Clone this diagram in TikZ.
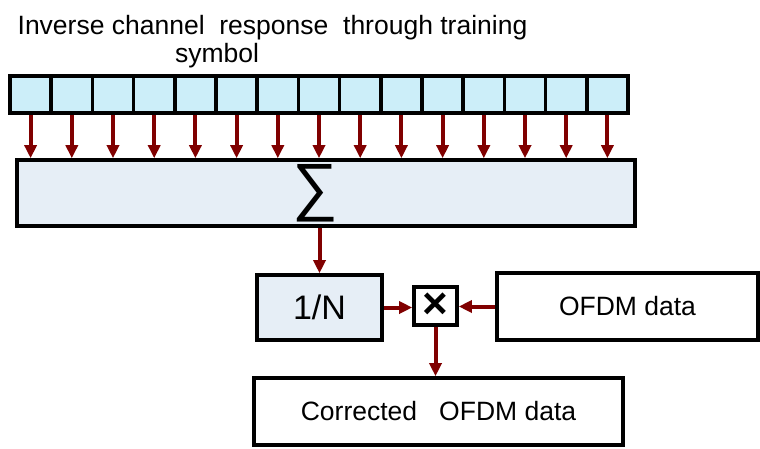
\documentclass[tikz,border=0pt]{standalone}
\usepackage{fontspec}
\setmainfont{Liberation Sans}
\usetikzlibrary{arrows.meta}
\definecolor{darkred}{HTML}{800000}
\definecolor{cellblue}{HTML}{CCEEF9}
\definecolor{boxgray}{HTML}{E6EEF6}
\tikzset{
  blk/.style={draw=black, line width=3.6pt, inner sep=0pt},
  cell/.style={blk, fill=cellblue, minimum width=41.2pt, minimum height=37pt},
  arr/.style={darkred, line width=4pt, -{Triangle[length=13pt,width=12pt]}},
  lbl/.style={font=\fontsize{26.5}{30}\selectfont}
}
\begin{document}
\begin{tikzpicture}[x=1pt, y=-1pt]
  \useasboundingbox (0,0) rectangle (760,448);
  \node[lbl, anchor=base] (title) at (272.5,34) {Inverse channel\ \ response\ \ through training};
  \node[lbl, anchor=base] (sub) at (217,62) {symbol};
  \foreach \i in {0,...,14}
    \node[cell] (c\i) at ({30.6+41.2*\i},94.5) {};
  \node[blk, fill=boxgray, minimum width=618pt, minimum height=66pt] (sum) at (326,193) {};
  \node[font=\fontsize{64}{64}\selectfont] (sigma) at (315,193) {∑};
  \foreach \i in {0,...,14}
    \draw[arr] (c\i.south) -- (c\i.south |- sum.north);
  \node[blk, fill=boxgray, minimum width=125pt, minimum height=65pt,
    font=\fontsize{34}{34}\selectfont] (inv) at (319.5,307.5) {1/N};
  \node[blk, fill=white, minimum width=43pt, minimum height=38pt,
    font=\fontsize{44}{44}\selectfont\bfseries] (mul) at (435.5,306) {×};
  \node[blk, lbl, minimum width=261pt, minimum height=67pt] (data) at (627.5,306.5) {OFDM data};
  \node[blk, lbl, minimum width=369pt, minimum height=67pt] (out) at (438.5,411.5) {Corrected\ \ \ OFDM data};
  \draw[arr] (sum.south -| inv.north) -- (inv.north);
  \draw[arr] (inv.east) -- (inv.east -| mul.west);
  \draw[arr] (data.west) -- (data.west -| mul.east);
  \draw[arr] (mul.south) -- (mul.south |- out.north);
\end{tikzpicture}
\end{document}
